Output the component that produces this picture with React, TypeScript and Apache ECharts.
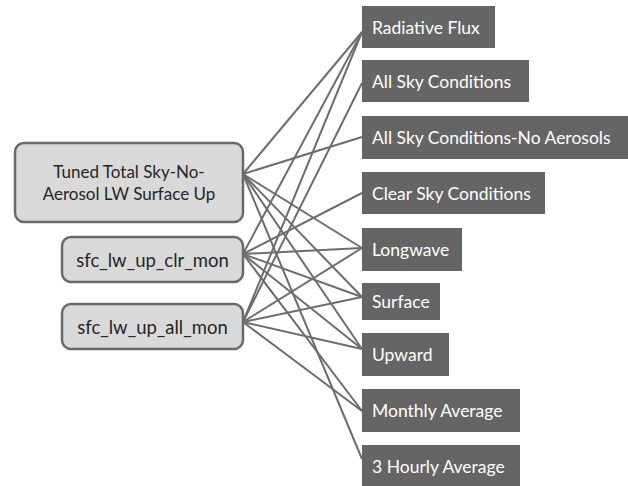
import React, { useEffect, useRef } from "react";
import * as echarts from "echarts";

// ---- content ----
const leftNodes = [
  "Tuned Total Sky-No-Aerosol LW Surface Up",
  "sfc_lw_up_clr_mon",
  "sfc_lw_up_all_mon",
];
const leftLabels = [
  "Tuned Total Sky-No-\nAerosol LW Surface Up",
  "sfc_lw_up_clr_mon",
  "sfc_lw_up_all_mon",
];
const rightNodes = [
  "Radiative Flux",
  "All Sky Conditions",
  "All Sky Conditions-No Aerosols",
  "Clear Sky Conditions",
  "Longwave",
  "Surface",
  "Upward",
  "Monthly Average",
  "3 Hourly Average",
];
const links: [string, string][] = [
  ["Tuned Total Sky-No-Aerosol LW Surface Up", "Radiative Flux"],
  ["Tuned Total Sky-No-Aerosol LW Surface Up", "All Sky Conditions-No Aerosols"],
  ["Tuned Total Sky-No-Aerosol LW Surface Up", "Longwave"],
  ["Tuned Total Sky-No-Aerosol LW Surface Up", "Surface"],
  ["Tuned Total Sky-No-Aerosol LW Surface Up", "Upward"],
  ["Tuned Total Sky-No-Aerosol LW Surface Up", "3 Hourly Average"],
  ["sfc_lw_up_clr_mon", "Radiative Flux"],
  ["sfc_lw_up_clr_mon", "Clear Sky Conditions"],
  ["sfc_lw_up_clr_mon", "Longwave"],
  ["sfc_lw_up_clr_mon", "Surface"],
  ["sfc_lw_up_clr_mon", "Upward"],
  ["sfc_lw_up_clr_mon", "Monthly Average"],
  ["sfc_lw_up_all_mon", "Radiative Flux"],
  ["sfc_lw_up_all_mon", "All Sky Conditions"],
  ["sfc_lw_up_all_mon", "Longwave"],
  ["sfc_lw_up_all_mon", "Surface"],
  ["sfc_lw_up_all_mon", "Upward"],
  ["sfc_lw_up_all_mon", "Monthly Average"],
];

// ---- layout (diagram coordinates) ----
const leftBoxes = [
  { x: 15, y: 143, w: 228, h: 79, ay: 174, fs: 17 },
  { x: 62, y: 237, w: 181, h: 45, ay: 254, fs: 18.5 },
  { x: 62, y: 304, w: 181, h: 45, ay: 322, fs: 18.5 },
];
const rightBoxes = [
  { x: 362, y: 6, w: 133, h: 42, ay: 32 },
  { x: 362, y: 60, w: 167, h: 42, ay: 83 },
  { x: 362, y: 116, w: 266, h: 43, ay: 137 },
  { x: 362, y: 172, w: 183, h: 42, ay: 193 },
  { x: 362, y: 228, w: 100, h: 43, ay: 248 },
  { x: 362, y: 283, w: 78, h: 37, ay: 297 },
  { x: 362, y: 333, w: 87, h: 43, ay: 349 },
  { x: 362, y: 389, w: 158, h: 43, ay: 411 },
  { x: 362, y: 445, w: 158, h: 42, ay: 459 },
];

const FONT = "Lato";

export default function App() {
  const ref = useRef<HTMLDivElement>(null);
  useEffect(() => {
    document.body.style.margin = "0";
    if (!ref.current) return;
    const chart = echarts.init(ref.current, null, { renderer: "svg" });

    const edgeData = links.map(([s, t]) => {
      const L = leftBoxes[leftNodes.indexOf(s)];
      const R = rightBoxes[rightNodes.indexOf(t)];
      return { coords: [[L.x + L.w, L.ay], [R.x, R.ay]] };
    });

    const boxData = [
      ...leftBoxes.map((b, i) => [b.x, b.y, b.w, b.h, 0, i]),
      ...rightBoxes.map((b, i) => [b.x, b.y, b.w, b.h, 1, i]),
    ];

    chart.setOption({
      animation: false,
      grid: { left: 0, right: 0, top: 0, bottom: 0 },
      xAxis: { type: "value", min: 0, max: 628, show: false },
      yAxis: { type: "value", min: 0, max: 486, inverse: true, show: false },
      series: [
        {
          type: "lines",
          coordinateSystem: "cartesian2d",
          silent: true,
          z: 1,
          lineStyle: { color: "#6d6d6d", width: 2, opacity: 1, curveness: 0 },
          data: edgeData,
        },
        {
          type: "custom",
          coordinateSystem: "cartesian2d",
          silent: true,
          z: 2,
          data: boxData,
          renderItem: (params: any, api: any) => {
            const p = api.coord([api.value(0), api.value(1)]);
            const s = api.size([api.value(2), api.value(3)]);
            const kind = api.value(4);
            const idx = api.value(5);
            const w = s[0];
            const h = s[1];
            if (kind === 0) {
              return {
                type: "group",
                children: [
                  {
                    type: "rect",
                    shape: { x: p[0], y: p[1], width: w, height: h, r: 9 },
                    style: { fill: "#d9d9d9", stroke: "#6a6a6a", lineWidth: 2.5 },
                  },
                  {
                    type: "text",
                    style: {
                      text: leftLabels[idx],
                      x: p[0] + w / 2,
                      y: p[1] + h / 2,
                      align: "center",
                      verticalAlign: "middle",
                      fontFamily: FONT,
                      fontSize: leftBoxes[idx].fs,
                      lineHeight: 22,
                      fill: "#262626",
                    },
                  },
                ],
              };
            }
            return {
              type: "group",
              children: [
                {
                  type: "rect",
                  shape: { x: p[0], y: p[1], width: w, height: h },
                  style: { fill: "#656565" },
                },
                {
                  type: "text",
                  style: {
                    text: rightNodes[idx],
                    x: p[0] + 10,
                    y: p[1] + h / 2,
                    align: "left",
                    verticalAlign: "middle",
                    fontFamily: FONT,
                    fontSize: 17.5,
                    fill: "#ffffff",
                  },
                },
              ],
            };
          },
        },
      ],
    });
    return () => chart.dispose();
  }, []);
  return <div ref={ref} style={{ width: 628, height: 486 }} />;
}
